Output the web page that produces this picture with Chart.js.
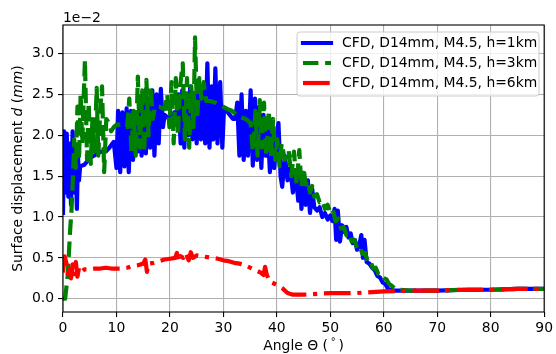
<!DOCTYPE html>
<html>
<head>
<meta charset="utf-8">
<script src="https://cdn.jsdelivr.net/npm/chart.js@4/dist/chart.umd.min.js"></script>
<style>
html,body{margin:0;padding:0;background:#fff;}
#wrap{width:556px;height:354px;position:relative;}
</style>
</head>
<body>
<div id="wrap"><canvas id="c" width="556" height="354"></canvas></div>
<script>
// values in units of 1e-2 mm
const xTicks = [0,10,20,30,40,50,60,70,80,90];
const yTicks = [0,0.5,1.0,1.5,2.0,2.5,3.0];
const seriesLabels = ['CFD, D14mm, M4.5, h=1km','CFD, D14mm, M4.5, h=3km','CFD, D14mm, M4.5, h=6km'];

const blueAngle = [0.0,0.2,0.5,0.7,1.0,1.2,1.5,1.8,2.1,2.3,2.6,2.8,3.0,3.2,4,5,6,7,8,8.7,9.5,10.0,
 10.3,10.7,11.1,11.5,11.9,12.3,12.7,13.1,13.5,13.9,14.3,14.7,15.1,15.5,15.9,16.3,16.7,17.1,17.5,17.9,18.3,18.7,19.0,19.5,20.3,20.8,21.2,21.6,
 22.0,22.3,22.7,23.0,23.4,23.8,24.2,24.6,25.0,25.4,25.8,26.2,26.6,27.0,27.4,27.8,28.1,28.5,28.9,29.4,29.8,30.1,30.6,31.2,31.8,32.2,
 32.6,33.0,33.4,33.8,34.2,34.6,35.1,35.5,35.9,36.3,36.7,37.1,37.5,37.9,38.3,38.7,39.1,39.5,39.9,40.3,40.7,41.0,41.5,42.0,42.5,43.0,43.5,
 44.0,44.3,44.6,45.0,45.4,45.8,46.2,46.6,47.0,47.5,48.0,48.5,49.0,49.5,50.0,50.4,50.8,51.1,51.4,51.8,52.2,52.6,53.0,53.4,53.8,54.2,54.6,55.0,55.4,55.8,56.1,56.4,56.8,
 57.3,57.8,58.3,58.8,59.3,59.8,60.3,60.8,62,65,70,75,80,85,90];
const blueDisp = [1.05,2.05,1.3,2.02,1.25,1.9,1.15,2.05,1.3,1.85,1.1,1.75,1.45,1.62,1.64,1.72,1.76,1.8,1.8,1.85,1.92,1.6,
 2.3,1.55,2.28,1.62,2.33,1.55,2.3,1.7,2.2,1.8,2.35,1.75,2.4,1.78,2.45,1.85,2.55,1.75,2.5,1.9,2.57,2.1,2.25,2.22,2.22,2.28,2.25,2.5,
 1.9,2.55,1.85,2.4,2.0,2.6,1.95,2.5,1.9,2.6,1.95,2.55,1.9,2.88,1.85,2.6,1.95,2.82,1.9,2.65,1.85,2.3,2.3,2.25,2.2,2.2,
 2.4,1.75,2.5,1.7,2.3,1.75,2.55,1.63,2.45,1.7,2.35,1.6,2.25,1.75,2.1,1.55,2.05,1.6,1.95,2.15,1.5,1.37,1.75,1.45,1.6,1.3,1.55,
 1.2,1.57,1.1,1.5,1.15,1.45,1.05,1.35,1.12,1.08,1.12,1.0,1.05,0.97,1.02,0.95,1.1,0.72,1.08,0.7,0.9,0.82,0.88,0.75,0.8,0.68,0.72,0.6,0.65,0.78,0.5,0.72,0.45,
 0.43,0.38,0.35,0.28,0.26,0.2,0.18,0.12,0.1,0.1,0.1,0.11,0.11,0.12,0.12];

const greenAngle = [0.0,0.4,0.9,1.3,1.6,1.9,2.1,2.4,2.7,3.0,3.3,3.6,4.1,4.5,4.8,5.2,5.5,5.9,6.3,6.6,7.0,7.3,7.7,8.1,8.6,9.0,9.5,10.0,11.0,12.0,
 12.4,12.8,13.2,13.6,14.0,14.4,14.8,15.2,15.6,16.0,16.4,16.8,17.2,18.0,19.0,19.5,19.9,20.3,20.7,21.1,21.5,21.9,22.4,22.8,23.2,23.6,24.0,24.4,24.7,25.1,25.5,25.9,26.3,26.8,
 27.5,28.5,29.2,30.0,30.8,31.6,32.5,33.3,34.2,35.1,35.5,36.0,36.4,36.8,37.2,37.6,38.0,38.5,38.9,39.3,39.7,40.1,40.5,40.9,41.5,42.2,42.7,43.2,43.7,
 44.2,44.6,45.0,45.4,45.8,46.2,46.6,47.0,47.5,48.0,48.5,49.0,49.5,50.0,50.5,51.0,51.5,52.0,52.5,53.0,53.5,54.0,54.5,55.0,55.5,56.0,56.5,57.0,57.5,58.0,58.5,
 59.0,59.5,60.0,60.5,61.0,61.5,62.0,62.7,65,70,75,80,85,90];
const greenDisp = [0.0,0.0,0.3,0.8,1.1,1.55,1.95,1.6,2.35,1.7,2.5,1.9,2.92,1.7,2.4,1.65,2.2,1.8,2.58,1.75,2.35,2.6,1.55,2.2,2.15,2.05,2.1,2.13,2.13,2.1,
 2.45,1.8,2.3,1.75,2.72,1.85,2.55,1.8,2.68,2.0,2.6,2.2,2.35,2.35,2.32,2.5,2.1,2.65,1.9,2.7,2.0,2.6,2.88,1.95,2.7,1.85,2.6,2.1,3.2,2.2,2.7,2.45,2.65,2.42,
 2.42,2.4,2.38,2.35,2.32,2.3,2.25,2.22,2.2,2.15,1.8,2.3,1.75,2.43,1.85,2.4,1.75,2.3,1.73,2.2,1.7,1.95,1.62,1.9,1.7,1.82,1.5,1.8,1.4,
 1.82,1.37,1.6,1.4,1.45,1.3,1.38,1.25,1.28,1.18,1.2,1.1,1.15,1.05,1.08,0.95,0.98,0.86,0.88,0.78,0.8,0.7,0.72,0.62,0.64,0.55,0.56,0.45,0.46,0.37,0.38,
 0.3,0.3,0.25,0.24,0.18,0.16,0.13,0.11,0.1,0.1,0.11,0.11,0.12,0.12];

const redAngle = [0.0,0.3,0.6,0.9,1.2,1.5,1.8,2.1,2.4,2.7,3.0,3.5,4,5,6,7,8,9,10,11,12,13,14,15,15.4,15.7,16,17,18,19,20,21,21.3,21.6,22,22.5,23,23.5,23.9,24.3,
 25,26,27,28,29,30,31,32,33,34,35,36,37,37.5,37.8,38.1,38.5,39,40,41,42,43,45,50,55,60,65,70,75,80,85,90];
const redDisp = [0.32,0.52,0.45,0.3,0.4,0.25,0.42,0.3,0.45,0.27,0.38,0.33,0.36,0.36,0.37,0.37,0.38,0.37,0.37,0.37,0.38,0.4,0.41,0.43,0.48,0.33,0.43,0.44,0.46,0.48,0.49,0.5,0.56,0.46,0.52,0.5,0.56,0.47,0.57,0.5,
 0.53,0.52,0.51,0.5,0.49,0.47,0.46,0.44,0.43,0.41,0.38,0.35,0.32,0.29,0.39,0.3,0.23,0.2,0.17,0.13,0.07,0.05,0.05,0.07,0.07,0.09,0.1,0.1,0.11,0.11,0.12,0.12];

const pts = (a, v) => a.map((x, i) => ({x: x, y: v[i]}));
const FONT = '"DejaVu Sans", sans-serif';
const FS = 13.9;

const frameAndLabels = {
  id: 'frameAndLabels',
  afterDatasetsDraw(chart) {
    const ctx = chart.ctx, a = chart.chartArea;
    ctx.save();
    ctx.strokeStyle = '#000';
    ctx.lineWidth = 1.1;
    ctx.strokeRect(a.left, a.top, a.right - a.left, a.bottom - a.top);
    ctx.restore();
  },
  afterDraw(chart) {
    const ctx = chart.ctx, a = chart.chartArea;
    ctx.save();
    ctx.fillStyle = '#000';
    ctx.font = FS + 'px ' + FONT;
    ctx.textBaseline = 'alphabetic';
    ctx.textAlign = 'left';
    ctx.fillText('1e\u22122', a.left, 22);

    const n = FS + 'px ' + FONT, sm = (FS*0.7) + 'px ' + FONT;
    const segX = [[ 'Angle \u0398 (', n, 0 ], [ '\u2009', n, 0 ], [ '\u00B0', sm, -5 ], [ '\u2009)', n, 0 ]];
    let w = 0;
    segX.forEach(s => { ctx.font = s[1]; w += ctx.measureText(s[0]).width; });
    let x = (a.left + a.right) / 2 - w / 2;
    segX.forEach(s => { ctx.font = s[1]; ctx.fillText(s[0], x, 350 + s[2]); x += ctx.measureText(s[0]).width; });

    const it = 'italic ' + FS + 'px ' + FONT;
    const segY = [['Surface displacement ', n], ['d', it], [' (', n], ['mm', it], [')', n]];
    w = 0;
    segY.forEach(s => { ctx.font = s[1]; w += ctx.measureText(s[0]).width; });
    ctx.translate(22, (a.top + a.bottom) / 2);
    ctx.rotate(-Math.PI / 2);
    x = -w / 2;
    segY.forEach(s => { ctx.font = s[1]; ctx.fillText(s[0], x, 0); x += ctx.measureText(s[0]).width; });
    ctx.restore();

    ctx.save();
    const bx = 297, by = 32, bw = 242, bh = 64, r = 3;
    ctx.beginPath();
    ctx.moveTo(bx + r, by);
    ctx.lineTo(bx + bw - r, by); ctx.arcTo(bx + bw, by, bx + bw, by + r, r);
    ctx.lineTo(bx + bw, by + bh - r); ctx.arcTo(bx + bw, by + bh, bx + bw - r, by + bh, r);
    ctx.lineTo(bx + r, by + bh); ctx.arcTo(bx, by + bh, bx, by + bh - r, r);
    ctx.lineTo(bx, by + r); ctx.arcTo(bx, by, bx + r, by, r);
    ctx.closePath();
    ctx.fillStyle = 'rgba(255,255,255,0.8)';
    ctx.fill();
    ctx.strokeStyle = '#cccccc';
    ctx.lineWidth = 1;
    ctx.stroke();
    chart.data.datasets.forEach((ds, i) => {
      const y = 43 + i * 20;
      ctx.beginPath();
      ctx.strokeStyle = ds.borderColor;
      ctx.lineWidth = ds.borderWidth;
      ctx.setLineDash(ds.borderDash || []);
      ctx.lineCap = ds.borderCapStyle;
      ctx.moveTo(303, y); ctx.lineTo(331, y);
      ctx.stroke();
      ctx.setLineDash([]);
      ctx.fillStyle = '#000';
      ctx.font = FS + 'px ' + FONT;
      ctx.textBaseline = 'middle';
      ctx.textAlign = 'left';
      ctx.fillText(ds.label, 342, y);
    });
    ctx.restore();
  }
};

new Chart(document.getElementById('c'), {
  type: 'line',
  data: {
    datasets: [
      {label: seriesLabels[0], data: pts(blueAngle, blueDisp), borderColor: '#0000ff', borderWidth: 4.2,
       borderCapStyle: 'square', borderJoinStyle: 'round', pointRadius: 0, tension: 0, order: 2, clip: 0},
      {label: seriesLabels[1], data: pts(greenAngle, greenDisp), borderColor: '#008000', borderWidth: 4.2,
       borderDash: [15.4, 6.7], borderCapStyle: 'butt', borderJoinStyle: 'round', pointRadius: 0, tension: 0, order: 1, clip: 0},
      {label: seriesLabels[2], data: pts(redAngle, redDisp), borderColor: '#ff0000', borderWidth: 4.2,
       borderDash: [26.7, 6.7, 4.2, 6.7], borderCapStyle: 'butt', borderJoinStyle: 'round', pointRadius: 0, tension: 0, order: 0, clip: 0}
    ]
  },
  options: {
    responsive: false,
    animation: false,
    devicePixelRatio: 1,
    layout: {padding: {left: 0, right: 9, top: 25, bottom: 0}},
    plugins: {legend: {display: false}, tooltip: {enabled: false}, title: {display: false}},
    scales: {
      x: {
        type: 'linear', min: 0, max: 90,
        afterBuildTicks: s => { s.ticks = xTicks.map(v => ({value: v})); },
        afterFit: s => { s.height = 42; },
        ticks: {font: {family: FONT, size: FS}, color: '#000', padding: 3, maxRotation: 0, autoSkip: false,
                callback: v => String(v)},
        grid: {color: '#b0b0b0', lineWidth: 1.1, tickColor: '#000', tickLength: 5, tickWidth: 1.1},
        border: {display: false}
      },
      y: {
        type: 'linear', min: -0.162, max: 3.35,
        afterBuildTicks: s => { s.ticks = yTicks.map(v => ({value: v})); },
        afterFit: s => { s.width = 63; },
        ticks: {font: {family: FONT, size: FS}, color: '#000', padding: 4, autoSkip: false,
                callback: v => Number(v).toFixed(1)},
        grid: {color: '#b0b0b0', lineWidth: 1.1, tickColor: '#000', tickLength: 5, tickWidth: 1.1},
        border: {display: false}
      }
    }
  },
  plugins: [frameAndLabels]
});
</script>
</body>
</html>
